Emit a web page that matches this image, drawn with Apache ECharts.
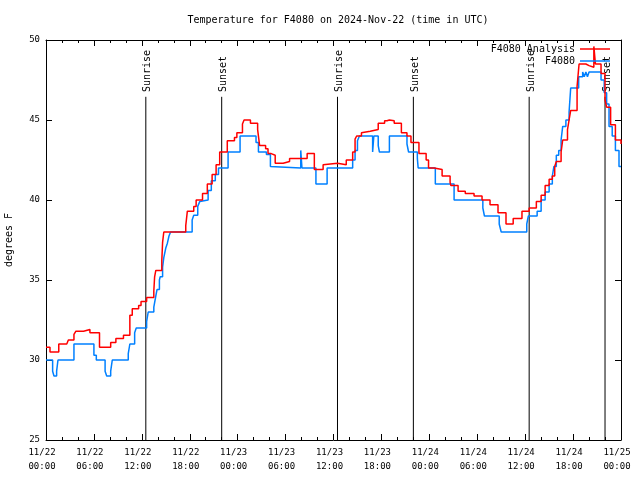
<!DOCTYPE html>
<html><head><meta charset="utf-8">
<script src="https://cdn.jsdelivr.net/npm/echarts@6/dist/echarts.min.js"></script>
<style>html,body{margin:0;padding:0;background:#fff}#c{width:640px;height:480px}</style>
</head><body><div id="c"></div>
<script>
// hours since 2024-11-22 00:00 UTC
var xTickLabels = ["11/22\n00:00","11/22\n06:00","11/22\n12:00","11/22\n18:00","11/23\n00:00","11/23\n06:00","11/23\n12:00","11/23\n18:00","11/24\n00:00","11/24\n06:00","11/24\n12:00","11/24\n18:00","11/25\n00:00"];
var analysisTimes = [0,0.5,1.6,2.6,2.8,3.5,3.75,4.7,5.5,6.7,8.1,8.75,9.7,10.5,10.8,11.6,11.9,12.6,13.5,13.6,13.75,14.5,14.6,14.75,17.5,17.7,18.5,18.8,19.6,20.2,20.8,21.3,21.75,22.7,23.6,23.9,24.6,24.8,25.6,26.5,26.75,27.5,27.8,28.2,28.7,29.7,30.5,32.7,33.6,34.7,34.9,36.5,37.6,38.4,38.7,38.9,39.5,39.7,40.6,41.6,42.4,42.7,43.0,43.6,44.5,45.2,45.7,46.7,47.6,47.9,48.6,49.6,50.6,50.7,51.6,52.5,53.6,54.6,55.6,56.6,57.6,58.5,59.6,60.5,61.4,62.0,62.5,63.0,63.4,63.7,63.9,64.5,64.7,65.3,65.5,65.7,66.5,66.75,67.6,68.0,68.6,68.8,69.5,70.0,70.2,70.7,71.3,72];
var analysisTemps = [30.8,30.5,31.0,31.1,31.25,31.6,31.8,31.9,31.7,30.8,31.1,31.35,31.55,32.8,33.2,33.4,33.65,33.9,34.3,35.2,35.6,36.2,37.35,38.0,38.4,39.3,39.6,40.0,40.4,41.0,41.6,42.2,43.0,43.7,43.9,44.2,44.75,45.0,44.8,44.4,43.4,43.2,42.9,42.8,42.3,42.4,42.6,42.9,41.9,42.2,42.3,42.2,42.5,43.0,43.8,44.0,44.2,44.3,44.4,44.8,44.95,45.0,44.95,44.8,44.2,44.0,43.6,42.9,42.5,42.0,41.9,41.5,41.1,40.9,40.55,40.4,40.25,40.0,39.7,39.2,38.5,38.85,39.3,39.5,39.9,40.3,40.9,41.3,41.5,42.1,42.4,43.0,43.75,44.4,45.0,45.6,47.1,48.5,48.4,48.3,49.6,48.5,47.9,46.25,45.8,44.7,43.75,43.5];
var obsTimes = [0,0.83,1.0,1.33,1.5,3.5,6.0,6.3,7.4,7.6,8.1,8.3,10.3,10.5,11.1,11.3,12.6,12.8,13.5,13.75,13.9,14.2,14.3,14.6,14.75,15.0,15.2,15.4,15.6,18.3,18.5,19.0,19.25,19.5,20.3,20.7,21.2,21.6,22.8,24.3,26.3,26.6,27.6,28.1,28.3,31.9,32.05,33.8,35.2,38.4,38.7,39.0,39.25,40.9,41.05,41.6,41.75,43.0,45.2,45.4,46.5,46.6,48.75,51.1,54.7,54.9,56.75,57.0,60.2,60.4,61.5,62.0,62.5,63.0,63.4,63.6,63.9,64.2,64.5,64.7,65.1,65.5,65.7,66.7,67.2,67.4,67.6,67.8,68.0,69.5,69.9,70.2,70.5,70.9,71.3,71.75,72];
var obsTemps = [30.0,29.3,29.0,29.3,30.0,31.0,30.3,30.0,29.3,29.0,29.3,30.0,30.4,31.0,31.7,32.0,32.4,33.0,33.3,34.0,34.4,35.0,35.2,35.8,36.4,37.0,37.3,37.75,38.0,38.75,39.05,39.6,39.9,40.0,40.6,41.2,41.6,42.0,43.0,44.0,43.6,43.0,42.85,42.1,42.0,43.1,42.0,41.0,42.0,42.5,43.1,43.7,44.0,43.0,44.0,43.4,43.0,44.0,43.5,43.0,42.6,42.0,41.0,40.0,39.5,39.0,38.5,38.0,38.5,39.0,39.3,40.0,40.5,41.0,41.5,42.1,42.8,43.1,43.75,44.6,45.0,45.5,47.0,47.7,48.0,47.7,48.0,47.7,48.0,47.5,46.7,46.0,44.6,44.0,43.1,42.1,42.1];
var sunriseHours = [12.5, 36.5, 60.5];
var sunsetHours = [22, 46, 70];

function pairs(t, v){ return t.map(function(x,i){ return [x, v[i]]; }); }
var events = sunriseHours.map(function(h){return [h,'Sunrise'];}).concat(sunsetHours.map(function(h){return [h,'Sunset'];}));

var FONT = 'DejaVu Sans Mono';
var chart = echarts.init(document.getElementById('c'), null, {renderer:'canvas'});
chart.setOption({
  animation:false,
  backgroundColor:'#fff',
  textStyle:{fontFamily:FONT, color:'#000'},
  title:{text:'Temperature for F4080 on 2024-Nov-22 (time in UTC)', left:333, top:10, textAlign:'center',
    textStyle:{fontFamily:FONT, fontSize:10, fontWeight:'normal', color:'#000'}},
  legend:[
    {data:['F4080 Analysis'], right:30, top:44, align:'right', icon:'rect', itemWidth:30, itemHeight:1.5, itemGap:0, padding:0,
      textStyle:{fontFamily:FONT, fontSize:10, color:'#000'}},
    {data:['F4080'], right:30, top:56, align:'right', icon:'rect', itemWidth:30, itemHeight:1.5, itemGap:0, padding:0,
      textStyle:{fontFamily:FONT, fontSize:10, color:'#000'}}
  ],
  grid:{left:46, right:19, top:40, bottom:40, show:false, containLabel:false, outerBoundsMode:'none'},
  xAxis:[
    {type:'value', min:0, max:72, interval:6, position:'bottom',
      axisLine:{show:true, onZero:false, lineStyle:{color:'#000', width:1}},
      axisTick:{show:true, inside:true, length:6, lineStyle:{color:'#000'}},
      minorTick:{show:true, splitNumber:3, length:3, lineStyle:{color:'#000'}},
      splitLine:{show:false},
      axisLabel:{margin:6, fontFamily:FONT, fontSize:9, color:'#000', lineHeight:14, padding:[0,8,0,0],
        formatter:function(v){ return xTickLabels[Math.round(v/6)]; }}},
    {type:'value', min:0, max:72, interval:6, position:'top',
      axisLine:{show:true, onZero:false, lineStyle:{color:'#000', width:1}},
      axisTick:{show:true, inside:true, length:6, lineStyle:{color:'#000'}},
      minorTick:{show:true, splitNumber:3, length:3, lineStyle:{color:'#000'}},
      splitLine:{show:false}, axisLabel:{show:false}}
  ],
  yAxis:[
    {type:'value', min:25, max:50, interval:5, position:'left',
      name:'degrees F', nameLocation:'middle', nameGap:32, nameRotate:90,
      nameTextStyle:{fontFamily:FONT, fontSize:10, color:'#000'},
      axisLine:{show:true, onZero:false, lineStyle:{color:'#000', width:1}},
      axisTick:{show:true, inside:true, length:6, lineStyle:{color:'#000'}},
      splitLine:{show:false},
      axisLabel:{margin:6, fontFamily:FONT, fontSize:9, color:'#000'}},
    {type:'value', min:25, max:50, interval:5, position:'right',
      axisLine:{show:true, onZero:false, lineStyle:{color:'#000', width:1}},
      axisTick:{show:true, inside:true, length:6, lineStyle:{color:'#000'}},
      splitLine:{show:false}, axisLabel:{show:false}}
  ],
  series:[
    {type:'custom', name:'events', silent:true, data:events, z:1,
      renderItem:function(params, api){
        var h = api.value(0);
        var p0 = api.coord([h, 25]);
        var p1 = api.coord([h, 46.45]);
        var pt = api.coord([h, 46.75]);
        return {type:'group', children:[
          {type:'line', shape:{x1:p0[0], y1:p0[1], x2:p1[0], y2:p1[1]}, style:{stroke:'#000', lineWidth:1}},
          {type:'text', x:pt[0]+2, y:pt[1], rotation:Math.PI/2,
            style:{text:events[params.dataIndex][1], fontFamily:FONT, fontSize:10, fill:'#000', align:'left', verticalAlign:'middle'}}
        ]};
      }},
    {type:'line', name:'F4080 Analysis', step:'end', showSymbol:false, symbol:'none', data:pairs(analysisTimes, analysisTemps),
      lineStyle:{color:'#ff0000', width:1.5}, itemStyle:{color:'#ff0000'}, z:3},
    {type:'line', name:'F4080', step:'end', showSymbol:false, symbol:'none', data:pairs(obsTimes, obsTemps),
      lineStyle:{color:'#0080ff', width:1.5}, itemStyle:{color:'#0080ff'}, z:2}
  ]
});
</script></body></html>
